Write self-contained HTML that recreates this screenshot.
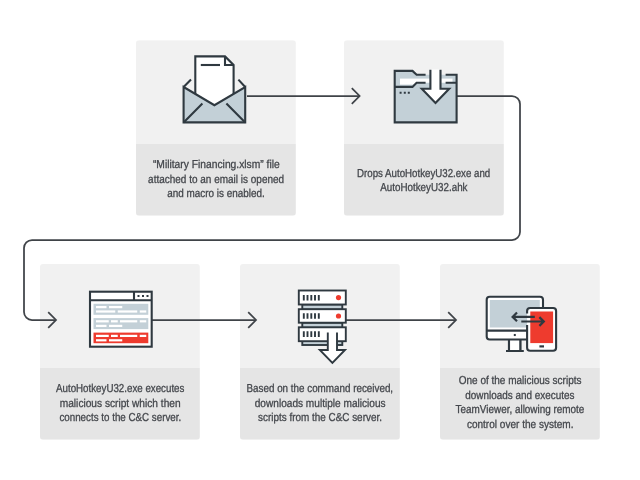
<!DOCTYPE html>
<html lang="en">
<head>
<meta charset="utf-8">
<title>Attack chain</title>
<style>
html,body{margin:0;padding:0;background:#fff;}
body{width:640px;height:480px;overflow:hidden;}
svg{display:block;will-change:transform;}
text{font-family:"Liberation Sans","DejaVu Sans",sans-serif;font-size:11.5px;fill:#44474c;stroke:#44474c;stroke-width:0.3px;text-rendering:geometricPrecision;}
.ink{stroke:#2f3940;stroke-width:2.1;fill:none;}
.ln{stroke:#3f4348;stroke-width:1.75;fill:none;}
</style>
</head>
<body>
<svg width="640" height="480" viewBox="0 0 640 480">
<defs>
<clipPath id="b0"><rect x="136" y="40.2" width="159.8" height="175.5" rx="3" ry="3"/></clipPath>
<clipPath id="b1"><rect x="344" y="40.2" width="159.8" height="175.5" rx="3" ry="3"/></clipPath>
<clipPath id="b2"><rect x="40" y="264" width="159.8" height="175.75" rx="3" ry="3"/></clipPath>
<clipPath id="b3"><rect x="240" y="264" width="159.8" height="175.75" rx="3" ry="3"/></clipPath>
<clipPath id="b4"><rect x="440" y="264" width="159.8" height="175.75" rx="3" ry="3"/></clipPath>
</defs>
<rect width="640" height="480" fill="#ffffff"/>
<g clip-path="url(#b0)"><rect x="136" y="40.2" width="160" height="103.8" fill="#f1f1f1"/><rect x="136" y="144" width="160" height="71.7" fill="#e5e5e5"/></g>
<g clip-path="url(#b1)"><rect x="344" y="40.2" width="160" height="103.8" fill="#f1f1f1"/><rect x="344" y="144" width="160" height="71.7" fill="#e5e5e5"/></g>
<g clip-path="url(#b2)"><rect x="40" y="264" width="160" height="104" fill="#f1f1f1"/><rect x="40" y="368" width="160" height="71.75" fill="#e5e5e5"/></g>
<g clip-path="url(#b3)"><rect x="240" y="264" width="160" height="104" fill="#f1f1f1"/><rect x="240" y="368" width="160" height="71.75" fill="#e5e5e5"/></g>
<g clip-path="url(#b4)"><rect x="440" y="264" width="160" height="104" fill="#f1f1f1"/><rect x="440" y="368" width="160" height="71.75" fill="#e5e5e5"/></g>
<!-- connectors -->
<path class="ln" d="M247 96H359.4"/>
<path class="ln" d="M351.8 88.2L359.6 96L351.8 103.8"/>
<path class="ln" d="M457 96H512A8 8 0 0 1 520 104V232A8 8 0 0 1 512 240H32A8 8 0 0 0 24 248V312A8 8 0 0 0 32 320H56"/>
<path class="ln" d="M48.2 312.2L56 320L48.2 327.8"/>
<path class="ln" d="M152 320H256"/>
<path class="ln" d="M248.2 312.2L256 320L248.2 327.8"/>
<path class="ln" d="M346 320H456"/>
<path class="ln" d="M448.2 312.2L456 320L448.2 327.8"/>
<!-- envelope -->
<g class="ink">
<path d="M183.6 87L191 79.6M245.2 87L238.4 79.6"/>
<path d="M195.3 93.9V56.4H225L233.6 65V93.9L214.4 105.2Z" fill="#fff" stroke="none"/>
<path d="M195.3 94V56.4H225L233.6 65V94"/>
<path d="M225 56.4V65H233.6"/>
<path d="M200.8 65H220"/>
<path d="M183.6 87L214.4 105.2L245.2 87V122.4H183.6Z" fill="#c3d0d7"/>
<path d="M183.6 122.4L202.4 103.6M245.2 122.4L226.4 103.6"/>
</g>
<!-- folder -->
<g class="ink">
<path d="M394.7 70.9H412.5L416.6 74.8H456.6V122.4H394.7Z" fill="#c3d0d7" stroke="none"/>
<rect x="400" y="78.6" width="52.5" height="6" fill="#fff" stroke="none"/>
<path d="M394.7 86.9H412.5L416.6 82.8H456.6V122.4H394.7Z" fill="#c3d0d7" stroke="none"/>
<path d="M425.6 74.8H416.6L412.5 70.9H394.7V122.4H456.6V74.8H445.6"/>
<path d="M394.7 86.9H412.5L416.6 82.8H425.6M445.6 82.8H456.6"/>
<path d="M430.4 69.4V88.8H421.8L435.5 103L449.2 88.8H440.5V69.4" fill="#fff" stroke="none"/>
<path d="M430.4 69.8V88.8H421.8L435.5 103L449.2 88.8H440.5V69.8"/>
<path d="M399.6 92.8H401.6M403.8 92.8H405.8M407.8 92.8H409.8"/>
</g>
<!-- window -->
<g class="ink">
<rect x="90" y="291.7" width="61.7" height="55" fill="#fff"/>
<path d="M90 300.3H151.7M134 291.7V300.3"/>
<path d="M137.5 296H139.5M142 296H144M146.5 296H148.5"/>
<rect x="93.5" y="303.8" width="54.8" height="11" fill="#c3d0d7" stroke="none"/>
<rect x="93.5" y="318.1" width="54.8" height="11" fill="#c3d0d7" stroke="none"/>
<rect x="93.5" y="332.6" width="54.8" height="10.6" fill="#ee3b2e" stroke="none"/>
<rect x="96" y="306.0" width="10.5" height="2.2" fill="#fff" stroke="none"/><rect x="109" y="306.0" width="13.25" height="2.2" fill="#fff" stroke="none"/><rect x="96" y="310.4" width="19.25" height="2.2" fill="#fff" stroke="none"/><rect x="117.75" y="310.4" width="19.5" height="2.2" fill="#fff" stroke="none"/><rect x="139.75" y="310.4" width="6.5" height="2.2" fill="#fff" stroke="none"/>
<rect x="96" y="320.2" width="12.75" height="2.2" fill="#fff" stroke="none"/><rect x="111" y="320.2" width="6.75" height="2.2" fill="#fff" stroke="none"/><rect x="120" y="320.2" width="17.25" height="2.2" fill="#fff" stroke="none"/><rect x="139.75" y="320.2" width="6.5" height="2.2" fill="#fff" stroke="none"/><rect x="96" y="324.8" width="10.5" height="2.2" fill="#fff" stroke="none"/><rect x="109" y="324.8" width="13.25" height="2.2" fill="#fff" stroke="none"/>
<rect x="96" y="334.8" width="12.75" height="2.2" fill="#fff" stroke="none"/><rect x="111" y="334.8" width="6.75" height="2.2" fill="#fff" stroke="none"/><rect x="120" y="334.8" width="17.25" height="2.2" fill="#fff" stroke="none"/><rect x="139.75" y="334.8" width="6.5" height="2.2" fill="#fff" stroke="none"/><rect x="96" y="339.2" width="10.5" height="2.2" fill="#fff" stroke="none"/><rect x="109" y="339.2" width="13.25" height="2.2" fill="#fff" stroke="none"/>
</g>
<!-- server -->
<g class="ink" style="stroke-width:1.9">
<rect x="302.3" y="304.5" width="40" height="5" fill="#c3d0d7"/>
<rect x="302.3" y="322.7" width="40" height="5" fill="#c3d0d7"/>
<rect x="302.3" y="340" width="40" height="5" fill="#c3d0d7"/>
<rect x="298.8" y="290.5" width="47" height="14.0" fill="#fff"/>
<rect x="298.8" y="309.2" width="47" height="13.5" fill="#fff"/>
<rect x="298.8" y="327.3" width="47" height="13.9" fill="#fff"/>
<path d="M303.8 295.0V300.6M307.5 295.0V300.6M311.3 295.0V300.6M315 295.0V300.6M318.8 295.0V300.6"/>
<path d="M303.8 313.2V318.8M307.5 313.2V318.8M311.3 313.2V318.8M315 313.2V318.8M318.8 313.2V318.8"/>
<path d="M303.8 331.3V336.9M307.5 331.3V336.9M311.3 331.3V336.9M315 331.3V336.9M318.8 331.3V336.9"/>
<circle cx="338.5" cy="297.6" r="2.6" fill="#ee3b2e" stroke="none"/>
<circle cx="338.5" cy="316" r="2.6" fill="#ee3b2e" stroke="none"/>
<path d="M327.8 333V350H319.8L332.4 363L345 350H337V333" fill="#fff" stroke="none"/>
<path d="M327.8 332.6V350H319.8L332.4 363L345 350H337V332.6"/>
</g>
<!-- devices -->
<g class="ink">
<path d="M509 339.5V351M520.3 339.5V351" />
<rect x="509" y="340" width="11.3" height="10" fill="#fff" stroke="none"/>
<path d="M509 339.5V351M520.3 339.5V351M506 351H523.8"/>
<rect x="486.7" y="296.7" width="56.3" height="42.8" rx="3" ry="3" fill="#fff"/>
<rect x="489.8" y="300" width="50" height="27.5" fill="#c3d0d7" stroke="none"/>
<path d="M486.7 330.6H543"/>
<path d="M513.8 335H515.8"/>
<rect x="527.1" y="308" width="29" height="42.8" rx="3" ry="3" fill="#fff" stroke="none"/>
<rect x="530.3" y="311.5" width="22.8" height="31.6" fill="#ee3b2e" stroke="none"/>
<path d="M527.1 313.6V311A3 3 0 0 1 530.1 308H553.1A3 3 0 0 1 556.1 311V347.8A3 3 0 0 1 553.1 350.8H530.1A3 3 0 0 1 527.1 347.8V325"/>
<path d="M539.4 346.4H544" stroke-width="2.2"/>
<path d="M512.6 316.9H534.8M517 312.5L512.6 316.9L517 321.3" stroke-width="2.2"/>
<path d="M521.3 321.5H543.8M539.4 317.1L543.8 321.5L539.4 325.9" stroke-width="2.2"/>
</g>
<!-- captions -->
<text x="152.9" y="168" textLength="126.85" lengthAdjust="spacingAndGlyphs">“Military Financing.xlsm” file</text>
<text x="148.1" y="183" textLength="136.0" lengthAdjust="spacingAndGlyphs">attached to an email is opened</text>
<text x="167.25" y="197" textLength="97.5" lengthAdjust="spacingAndGlyphs">and macro is enabled.</text>
<text x="357.1" y="177" textLength="133.15" lengthAdjust="spacingAndGlyphs">Drops AutoHotkeyU32.exe and</text>
<text x="380.25" y="191" textLength="87.25" lengthAdjust="spacingAndGlyphs">AutoHotkeyU32.ahk</text>
<text x="56.0" y="392" textLength="128.4" lengthAdjust="spacingAndGlyphs">AutoHotkeyU32.exe executes</text>
<text x="59.75" y="407" textLength="120.85" lengthAdjust="spacingAndGlyphs">malicious script which then</text>
<text x="59.4" y="421" textLength="121.85" lengthAdjust="spacingAndGlyphs">connects to the C&amp;C server.</text>
<text x="246.5" y="392" textLength="146.6" lengthAdjust="spacingAndGlyphs">Based on the command received,</text>
<text x="254.75" y="407" textLength="130.85" lengthAdjust="spacingAndGlyphs">downloads multiple malicious</text>
<text x="258.1" y="421" textLength="123.8" lengthAdjust="spacingAndGlyphs">scripts from the C&amp;C server.</text>
<text x="458.75" y="384" textLength="122.75" lengthAdjust="spacingAndGlyphs">One of the malicious scripts</text>
<text x="465.25" y="399" textLength="109.15" lengthAdjust="spacingAndGlyphs">downloads and executes</text>
<text x="455.6" y="413" textLength="128.8" lengthAdjust="spacingAndGlyphs">TeamViewer, allowing remote</text>
<text x="466.9" y="428" textLength="106.6" lengthAdjust="spacingAndGlyphs">control over the system.</text>
</svg>
</body>
</html>
